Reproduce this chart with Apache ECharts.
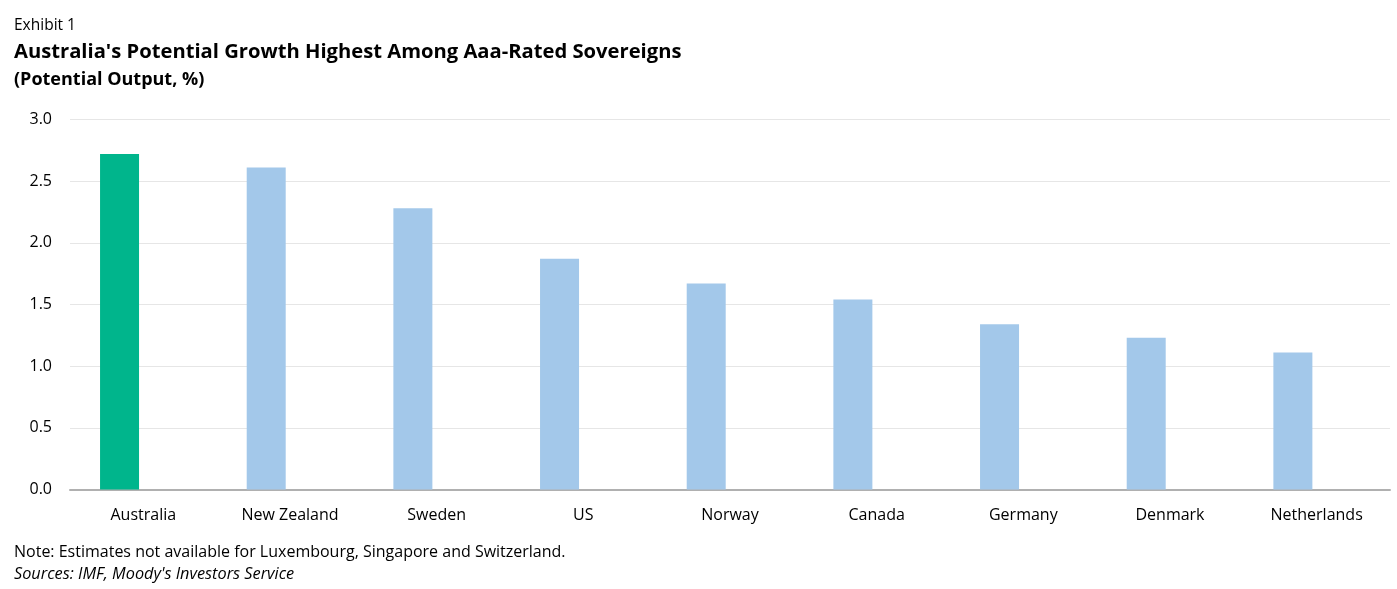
<!DOCTYPE html>
<html>
<head>
<meta charset="utf-8">
<script src="https://cdn.jsdelivr.net/npm/echarts@6/dist/echarts.min.js"></script>
<style>
html,body{margin:0;padding:0;background:#fff;}
#c{width:1397px;height:589px;}
</style>
</head>
<body>
<div id="c"></div>
<script>
const categories = ['Australia','New Zealand','Sweden','US','Norway','Canada','Germany','Denmark','Netherlands'];
const values = [2.72, 2.61, 2.28, 1.87, 1.67, 1.54, 1.34, 1.23, 1.11];
const highlight = 'Australia';
const yTicks = [0, 0.5, 1.0, 1.5, 2.0, 2.5, 3.0];

const FONT = '"Open Sans", "Noto Sans", sans-serif';
const chart = echarts.init(document.getElementById('c'), null, {renderer:'canvas'});
chart.setOption({
  animation:false,
  backgroundColor:'#fff',
  grid:{left:70, right:7, top:119.5, bottom:99.5, containLabel:false},
  graphic:[
    {type:'text', left:14, top:18, style:{text:'Exhibit 1', font:'15.5px '+FONT, fill:'#000'}},
    {type:'text', left:14, top:42, style:{text:"Australia's Potential Growth Highest Among Aaa-Rated Sovereigns", font:'bold 20.2px '+FONT, fill:'#000'}},
    {type:'text', left:14, top:71, style:{text:'(Potential Output, %)', font:'bold 18px '+FONT, fill:'#000'}},
    {type:'text', left:14, top:544, style:{text:'Note: Estimates not available for Luxembourg, Singapore and Switzerland.', font:'16px '+FONT, fill:'#000'}},
    {type:'text', left:14, top:566, style:{text:"Sources: IMF, Moody's Investors Service", font:'italic 16.3px '+FONT, fill:'#000'}}
  ],
  xAxis:{
    type:'category', data:categories,
    axisLine:{lineStyle:{color:'#b0b0b0', width:2}},
    axisTick:{show:false},
    axisLabel:{color:'#000', fontSize:16, fontFamily:FONT, margin:18}
  },
  yAxis:{
    type:'value', min:0, max:3, interval:0.5,
    axisLine:{show:false}, axisTick:{show:false},
    splitLine:{lineStyle:{color:'#e6e6e6', width:1}},
    axisLabel:{color:'#000', fontSize:16, fontFamily:FONT, margin:18, verticalAlign:'middle', padding:[2,0,0,0],
      formatter:v=>v.toFixed(1)}
  },
  series:[
    {type:'bar', barWidth:39, barGap:'22%',
     data:values.map((v,i)=>({value:v, itemStyle:{color: categories[i]===highlight ? '#00b58c' : '#a3c8ea'}}))},
    {type:'bar', barWidth:39, data:categories.map(()=>'-')}
  ]
});
</script>
</body>
</html>
